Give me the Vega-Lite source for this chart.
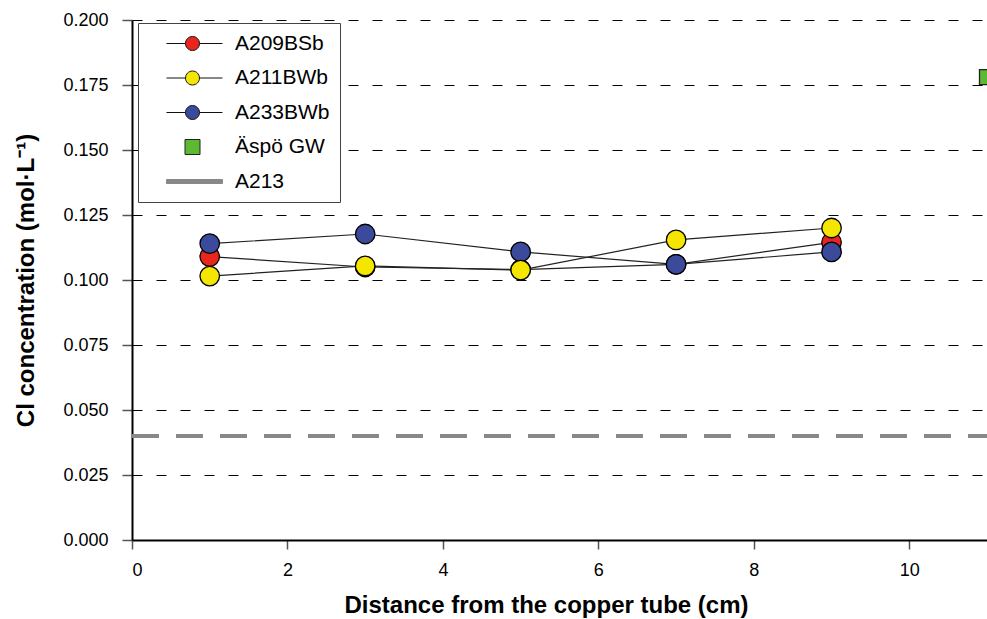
{
  "$schema": "https://vega.github.io/schema/vega-lite/v6.json",
  "width": 855,
  "height": 520,
  "autosize": {"type": "none"},
  "padding": {"left": 132, "top": 20, "right": 0, "bottom": 79},
  "background": "white",
  "config": {
    "view": {"stroke": null},
    "font": "Liberation Sans",
    "axis": {
      "labelFont": "Liberation Sans",
      "titleFont": "Liberation Sans",
      "labelColor": "black",
      "titleColor": "black",
      "labelFontSize": 18,
      "titleFontSize": 24,
      "titleFontWeight": "bold",
      "domainColor": "black",
      "domainWidth": 2,
      "tickColor": "#555555",
      "tickWidth": 1.5
    }
  },
  "data": {
    "values": [
      {"series": "A209BSb", "x": 1, "y": 0.109},
      {"series": "A209BSb", "x": 3, "y": 0.105},
      {"series": "A209BSb", "x": 5, "y": 0.104},
      {"series": "A209BSb", "x": 7, "y": 0.106},
      {"series": "A209BSb", "x": 9, "y": 0.1145},
      {"series": "A233BWb", "x": 1, "y": 0.114},
      {"series": "A233BWb", "x": 3, "y": 0.1177},
      {"series": "A233BWb", "x": 5, "y": 0.1108},
      {"series": "A233BWb", "x": 7, "y": 0.106},
      {"series": "A233BWb", "x": 9, "y": 0.1108},
      {"series": "A211BWb", "x": 1, "y": 0.1015},
      {"series": "A211BWb", "x": 3, "y": 0.1054},
      {"series": "A211BWb", "x": 5, "y": 0.1038},
      {"series": "A211BWb", "x": 7, "y": 0.1154},
      {"series": "A211BWb", "x": 9, "y": 0.12},
      {"series": "Äspö GW", "x": 11, "y": 0.178},
      {"series": "A213", "x": null, "y": 0.04}
    ]
  },
  "encoding": {
    "x": {
      "field": "x", "type": "quantitative",
      "scale": {"domain": [0, 11], "nice": false, "zero": false},
      "axis": {
        "title": "Distance from the copper tube (cm)",
        "values": [0, 2, 4, 6, 8, 10],
        "grid": false,
        "tickSize": 9,
        "labelPadding": 12,
        "titlePadding": 14,
        "titleX": 414
      }
    },
    "y": {
      "field": "y", "type": "quantitative",
      "scale": {"domain": [0, 0.2], "nice": false, "zero": false},
      "axis": {
        "title": "Cl concentration (mol·L⁻¹)",
        "values": [0, 0.025, 0.05, 0.075, 0.1, 0.125, 0.15, 0.175, 0.2],
        "format": ".3f",
        "grid": true,
        "gridColor": "black",
        "gridDash": [10, 14],
        "gridWidth": 1,
        "tickSize": 10,
        "labelPadding": 14,
        "titlePadding": 24
      }
    }
  },
  "layer": [
    {
      "transform": [{"filter": "datum.series === 'A209BSb' || datum.series === 'A211BWb' || datum.series === 'A233BWb'"}],
      "mark": {"type": "line", "color": "#222222", "strokeWidth": 1.2},
      "encoding": {"detail": {"field": "series"}}
    },
    {
      "transform": [{"filter": "datum.series === 'A209BSb' || datum.series === 'A233BWb' || datum.series === 'A211BWb'"}],
      "mark": {"type": "point", "shape": "circle", "size": 380, "filled": true, "stroke": "black", "strokeWidth": 1.3, "opacity": 1},
      "encoding": {
        "fill": {"field": "series", "type": "nominal"}
      }
    },
    {
      "transform": [{"filter": "datum.series === 'Äspö GW'"}],
      "mark": {"type": "square", "size": 225, "filled": true, "stroke": "#222222", "strokeWidth": 1.3, "opacity": 1, "clip": true},
      "encoding": {
        "fill": {"field": "series", "type": "nominal"}
      }
    },
    {
      "transform": [{"filter": "datum.series === 'A213'"}],
      "mark": {"type": "rule", "color": "#888888", "strokeWidth": 4, "strokeDash": [27, 17]},
      "encoding": {"x": {"value": 0}, "x2": {"value": 855}}
    },
    {
      "data": {
        "values": [
          {"series": "A209BSb"},
          {"series": "A211BWb"},
          {"series": "A233BWb"},
          {"series": "Äspö GW"},
          {"series": "A213"}
        ]
      },
      "mark": {"type": "point", "filled": true, "opacity": 1, "strokeWidth": 1},
      "encoding": {
        "fill": {
          "field": "series", "type": "nominal",
          "scale": {
            "domain": ["A209BSb", "A211BWb", "A233BWb", "Äspö GW", "A213"],
            "range": ["#E8261E", "#F5E600", "#3C4A9B", "#5DB832", "#888888"]
          },
          "legend": {
            "title": null,
            "orient": "none",
            "legendX": 6,
            "legendY": 3,
            "padding": 10,
            "fillColor": "white",
            "strokeColor": "#444444",
            "labelFont": "Liberation Sans",
            "labelFontSize": 21,
            "labelColor": "black",
            "labelOffset": 66,
            "symbolSize": 256,
            "symbolStrokeWidth": 1,
            "rowPadding": 12.5
          }
        },
        "shape": {
          "field": "series", "type": "nominal",
          "scale": {
            "domain": ["A209BSb", "A211BWb", "A233BWb", "Äspö GW", "A213"],
            "range": [
              "M1,0H3.375M5.125,0H8M3.375,0A0.875,0.875 0 1,0 5.125,0A0.875,0.875 0 1,0 3.375,0Z",
              "M1,0H3.375M5.125,0H8M3.375,0A0.875,0.875 0 1,0 5.125,0A0.875,0.875 0 1,0 3.375,0Z",
              "M1,0H3.375M5.125,0H8M3.375,0A0.875,0.875 0 1,0 5.125,0A0.875,0.875 0 1,0 3.375,0Z",
              "M3.3125,-0.9375H5.1875V0.9375H3.3125Z",
              "M1,-0.25H8V0.25H1Z"
            ]
          }
        },
        "stroke": {
          "field": "series", "type": "nominal",
          "scale": {
            "domain": ["A209BSb", "A211BWb", "A233BWb", "Äspö GW", "A213"],
            "range": ["#111111", "#111111", "#111111", "#222222", "#888888"]
          }
        }
      }
    }
  ]
}
